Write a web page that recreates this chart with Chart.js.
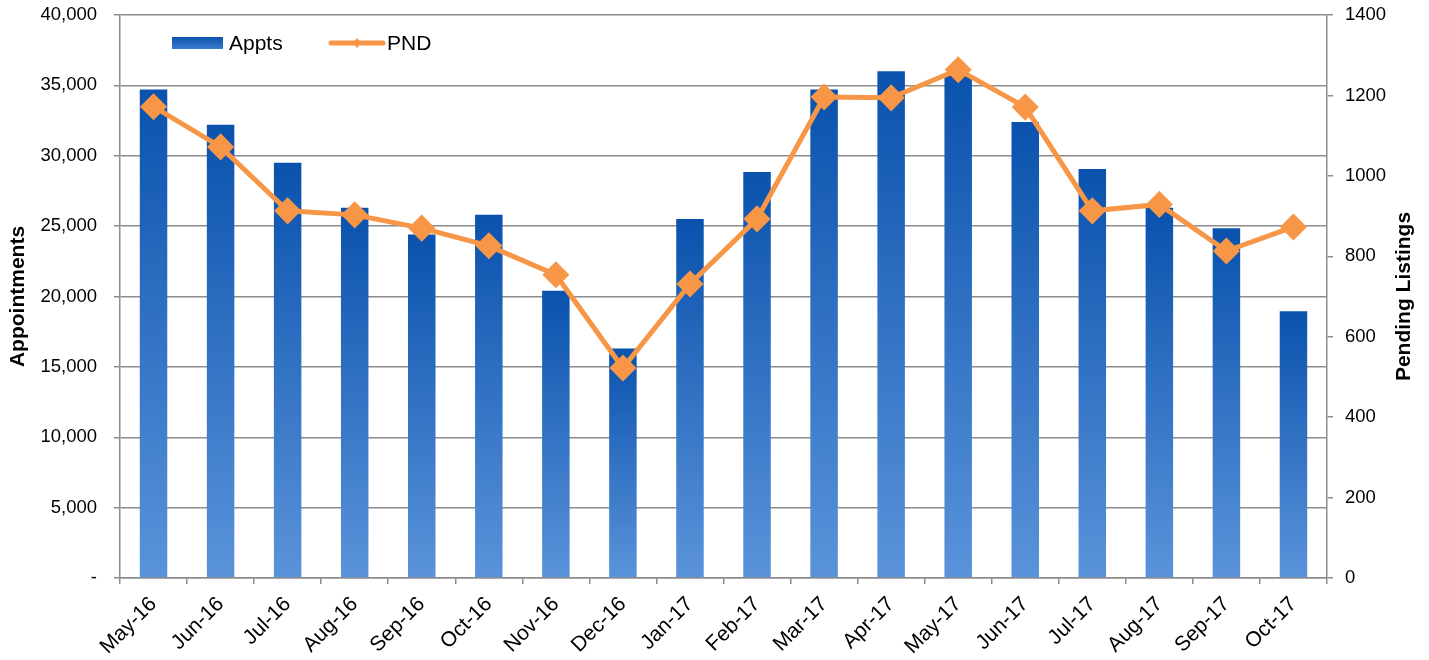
<!DOCTYPE html>
<html>
<head>
<meta charset="utf-8">
<script src="https://cdn.jsdelivr.net/npm/chart.js@4"></script>
<style>
  html, body { margin: 0; padding: 0; background: #fff; }
  #wrap { width: 1429px; height: 660px; }
</style>
</head>
<body>
<div id="wrap"><canvas id="apptChart" width="1429" height="660"></canvas></div>
<script>
const meses = ["May-16","Jun-16","Jul-16","Aug-16","Sep-16","Oct-16","Nov-16","Dec-16","Jan-17","Feb-17","Mar-17","Apr-17","May-17","Jun-17","Jul-17","Aug-17","Sep-17","Oct-17"];
const appts = [34700, 32200, 29500, 26300, 24400, 25800, 20400, 16300, 25500, 28850, 34700, 36000, 35700, 32400, 29050, 26300, 24850, 18950];
const pnd = [1172, 1072, 913, 903, 870, 826, 754, 522, 731, 893, 1196, 1194, 1264, 1171, 913, 929, 813, 873];
const leftTicks = [0, 5000, 10000, 15000, 20000, 25000, 30000, 35000, 40000];
const rightTicks = [0, 200, 400, 600, 800, 1000, 1200, 1400];

const fuente = "'Liberation Sans', Arial, sans-serif";
const gris = "#8c8c8c";
const naranja = "#f79646";

function degradado(c) {
  const chart = c.chart;
  if (!chart.chartArea || c.type !== "data") return "#2f6fc4";
  const y = chart.scales.y;
  const top = y.getPixelForValue(c.raw);
  const bot = y.getPixelForValue(0);
  const g = chart.ctx.createLinearGradient(0, top, 0, bot);
  g.addColorStop(0, "#0a52ad");
  g.addColorStop(1, "#5a93da");
  return g;
}

// leyenda dentro del area y titulo derecho de abajo hacia arriba
const extras = {
  id: "extras",
  afterDraw(chart) {
    const ctx = chart.ctx;
    ctx.save();
    // leyenda
    const g = ctx.createLinearGradient(0, 37, 0, 50);
    g.addColorStop(0, "#0a52ad");
    g.addColorStop(1, "#3f7fd0");
    ctx.fillStyle = g;
    ctx.fillRect(172, 37, 51, 12);
    ctx.font = "21px " + fuente;
    ctx.fillStyle = "#000";
    ctx.textBaseline = "middle";
    ctx.fillText(chart.data.datasets[0].label, 229, 44);
    ctx.strokeStyle = naranja;
    ctx.lineWidth = 5;
    ctx.lineCap = "round";
    ctx.beginPath();
    ctx.moveTo(331, 43);
    ctx.lineTo(383, 43);
    ctx.stroke();
    ctx.fillStyle = naranja;
    ctx.beginPath();
    ctx.moveTo(357, 38); ctx.lineTo(361, 43); ctx.lineTo(357, 48); ctx.lineTo(353, 43);
    ctx.closePath();
    ctx.fill();
    ctx.fillStyle = "#000";
    ctx.fillText(chart.data.datasets[1].label, 387, 44);
    // titulo eje derecho
    const a = chart.chartArea;
    ctx.translate(1404, (a.top + a.bottom) / 2);
    ctx.rotate(-Math.PI / 2);
    ctx.font = "bold 21px " + fuente;
    ctx.textAlign = "center";
    ctx.fillText("Pending Listings", 0, 0);
    ctx.restore();
  }
};

const ctx = document.getElementById("apptChart").getContext("2d");
const apptChart = new Chart(ctx, {
  type: "bar",
  data: {
    labels: meses,
    datasets: [
      { label: "Appts", data: appts, backgroundColor: degradado, yAxisID: "y", order: 1,
        barPercentage: 0.41, categoryPercentage: 1 },
      { label: "PND", type: "line", data: pnd, yAxisID: "y1", order: 0,
        borderColor: naranja, backgroundColor: naranja, borderWidth: 5,
        pointStyle: "rectRot", pointRadius: 10, pointHoverRadius: 10, tension: 0 }
    ]
  },
  options: {
    responsive: false,
    animation: false,
    layout: { autoPadding: false, padding: { top: 15 } },
    plugins: { legend: { display: false }, tooltip: { enabled: false } },
    scales: {
      x: {
        grid: { drawOnChartArea: false, drawTicks: true, tickLength: 6, color: gris, lineWidth: 1.5 },
        border: { color: gris, width: 1.5 },
        ticks: { color: "#000", font: { family: fuente, size: 21 }, minRotation: 45, maxRotation: 45, autoSkip: false, padding: 8 },
        afterFit: s => { s.height = 82; }
      },
      y: {
        position: "left",
        min: 0, max: 40000,
        afterBuildTicks: s => { s.ticks = leftTicks.map(v => ({ value: v })); },
        grid: { color: gris, lineWidth: 1.5, tickLength: 6 },
        border: { color: gris, width: 1.5 },
        ticks: { color: "#000", font: { family: fuente, size: 18.5 }, padding: 17,
          callback: v => v === 0 ? "-" : v.toLocaleString("en-US") },
        title: { display: true, text: "Appointments", color: "#000",
          font: { family: fuente, size: 21, weight: "bold" }, padding: { top: 6, bottom: 0 } },
        afterFit: s => { s.width = 120; s.paddingTop = 0; s.paddingBottom = 0; }
      },
      y1: {
        position: "right",
        min: 0, max: 1400,
        afterBuildTicks: s => { s.ticks = rightTicks.map(v => ({ value: v })); },
        grid: { drawOnChartArea: false, color: gris, lineWidth: 1.5, tickLength: 6 },
        border: { color: gris, width: 1.5 },
        ticks: { color: "#000", font: { family: fuente, size: 18.5 }, padding: 12,
          callback: v => String(v) },
        afterFit: s => { s.width = 102; s.paddingTop = 0; s.paddingBottom = 0; }
      }
    }
  },
  plugins: [extras]
});
</script>
</body>
</html>
